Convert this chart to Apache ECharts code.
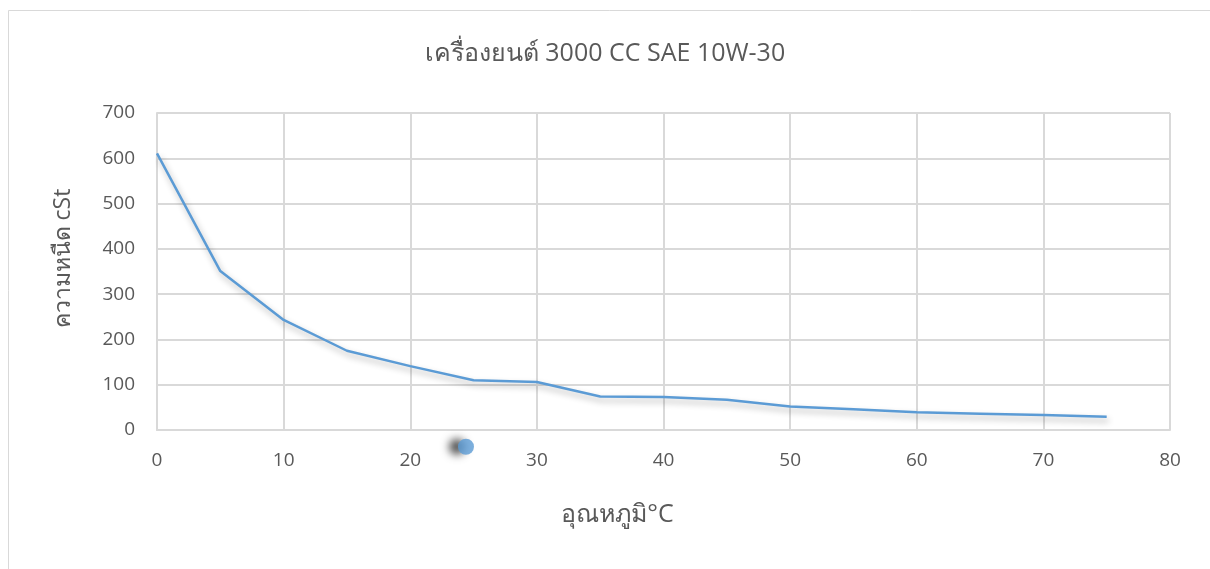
<!DOCTYPE html>
<html>
<head>
<meta charset="utf-8">
<script src="https://cdn.jsdelivr.net/npm/echarts@6/dist/echarts.min.js"></script>
<style>
  html, body { margin: 0; padding: 0; background: #ffffff; }
  #chart { width: 1210px; height: 569px; }
</style>
</head>
<body>
<div id="chart"></div>
<script>
// Oil viscosity vs temperature, 3000 CC engine, SAE 10W-30
const titleText = 'เครื่องยนต์ 3000 CC SAE 10W-30';
const xAxisName = 'อุณหภูมิ°C';
const yAxisName = 'ความหนืด cSt';
const temperatures = [0, 5, 10, 15, 20, 25, 30, 35, 40, 45, 50, 55, 60, 65, 70, 75];
const viscosity = [611, 351, 243, 175, 141, 110, 106, 74, 73, 67, 52, 46, 39, 36, 33, 29];
// a stray marker sitting just below the axis
const strayPoint = [24.4, -37];

const FONT = "'Open Sans', 'Noto Sans', sans-serif";
const TEXT = '#595959';
const GRID = '#d9d9d9';
const BLUE = '#5B9BD5';

const chart = echarts.init(document.getElementById('chart'), null, { renderer: 'canvas' });

chart.setOption({
  backgroundColor: '#ffffff',
  animation: false,
  title: {
    text: titleText,
    left: 'center',
    top: 36,
    textStyle: { fontFamily: FONT, fontSize: 25, fontWeight: 'normal', color: TEXT }
  },
  graphic: [{
    type: 'rect',
    shape: { x: 8.5, y: 10.5, width: 1220, height: 580 },
    style: { fill: 'none', stroke: GRID, lineWidth: 1 },
    silent: true
  }],
  grid: { left: 157, right: 40, top: 113, bottom: 139, containLabel: false },
  xAxis: {
    type: 'value',
    min: 0, max: 80, interval: 10,
    name: xAxisName,
    nameLocation: 'middle',
    nameGap: 72,
    nameTextStyle: { fontFamily: FONT, fontSize: 25, color: TEXT, padding: [0, 92, 0, 0] },
    axisLine: { show: true, lineStyle: { color: GRID, width: 2 } },
    axisTick: { show: false },
    axisLabel: { fontFamily: FONT, fontSize: 19, color: TEXT, margin: 21 },
    splitLine: { show: true, lineStyle: { color: GRID, width: 2 } }
  },
  yAxis: {
    type: 'value',
    min: 0, max: 700, interval: 100,
    name: yAxisName,
    nameLocation: 'middle',
    nameGap: 82,
    nameTextStyle: { fontFamily: FONT, fontSize: 23, color: TEXT, padding: [0, 0, 0, 26] },
    axisLine: { show: true, lineStyle: { color: GRID, width: 2 } },
    axisTick: { show: false },
    axisLabel: { fontFamily: FONT, fontSize: 19, color: TEXT, margin: 22 },
    splitLine: { show: true, lineStyle: { color: GRID, width: 2 } }
  },
  series: [
    {
      type: 'line',
      data: temperatures.map((t, i) => [t, viscosity[i]]),
      showSymbol: false,
      symbol: 'none',
      lineStyle: {
        color: BLUE, width: 2.5,
        shadowColor: 'rgba(0,0,0,0.3)', shadowBlur: 6, shadowOffsetX: 2, shadowOffsetY: 4
      },
      z: 3
    },
    {
      type: 'scatter',
      data: [strayPoint],
      clip: false,
      symbolSize: 16,
      itemStyle: {
        color: BLUE,
        shadowColor: 'rgba(0,0,0,0.85)', shadowBlur: 8, shadowOffsetX: -9, shadowOffsetY: 0
      },
      z: 4
    }
  ]
});
</script>
</body>
</html>
